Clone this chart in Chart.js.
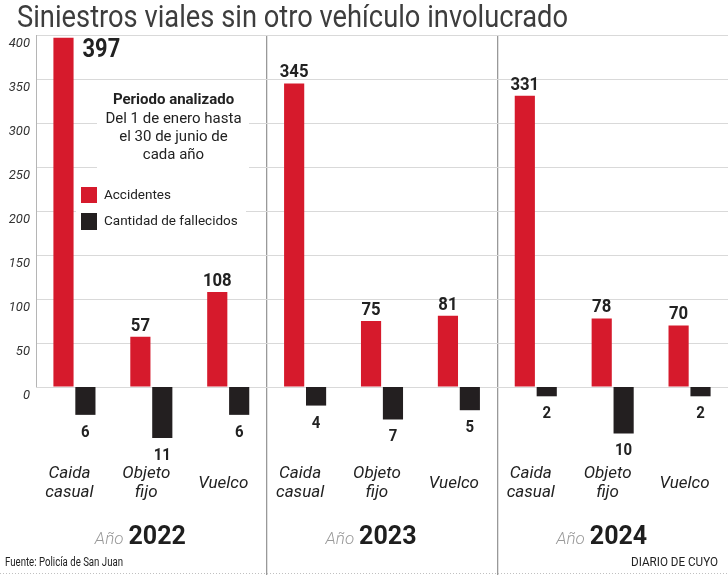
<!DOCTYPE html>
<html>
<head>
<meta charset="utf-8">
<script src="https://cdn.jsdelivr.net/npm/chart.js@4.4.1/dist/chart.umd.min.js"></script>
<style>
  html, body { margin: 0; padding: 0; background: #fff; }
</style>
</head>
<body>
<canvas id="siniestros" width="728" height="575"></canvas>
<script>
// datos
const years = ['2022', '2023', '2024'];
const tipos = [['Caida', 'casual'], ['Objeto', 'fijo'], ['Vuelco']];
const accidentes = [397, 57, 108, 345, 75, 81, 331, 78, 70];
const fallecidos = [6, 11, 6, 4, 7, 5, 2, 10, 2];
const yTicks = [0, 50, 100, 150, 200, 250, 300, 350, 400];

const RED = '#d61a2c';
const BLACK = '#231f20';
const FONT = 'Roboto, "Liberation Sans", Arial, sans-serif';
// la escala de fallecidos es distinta (barras hacia abajo)
const Y_MIN = -213.6, Y_MAX = 400;
const K = 0.1897;

const labels = years.flatMap(y => tipos.map(t => t.join(' ') + ' ' + y));

function txt(ctx, s, x, y, font, color, align, sx) {
  ctx.save();
  ctx.font = font;
  ctx.fillStyle = color;
  ctx.textAlign = align || 'left';
  ctx.textBaseline = 'alphabetic';
  ctx.translate(x, y);
  ctx.scale(sx || 1, 1);
  ctx.fillText(s, 0, 0);
  ctx.restore();
}
function fitTo(ctx, s, font, w) {
  ctx.save();
  ctx.font = font;
  const m = ctx.measureText(s).width;
  ctx.restore();
  return Math.min(1, w / m);
}
function noPad(axis) {
  axis.paddingTop = 0;
  axis.paddingBottom = 0;
  axis.paddingLeft = 0;
  axis.paddingRight = 0;
}

const deco = {
  id: 'deco',
  beforeDatasetsDraw(chart) {
    const ctx = chart.ctx;
    const xs = chart.scales.x, ys = chart.scales.y;
    // eje izquierdo
    ctx.save();
    ctx.strokeStyle = '#b5b5b5';
    ctx.lineWidth = 1;
    ctx.beginPath();
    ctx.moveTo(xs.left + 0.5, ys.getPixelForValue(400));
    ctx.lineTo(xs.left + 0.5, ys.getPixelForValue(0));
    ctx.stroke();
    // fondos blancos del recuadro
    ctx.fillStyle = '#fff';
    ctx.fillRect(97, 84, 152, 88);
    ctx.fillRect(76, 180, 170, 56);
    ctx.restore();

    const cx = 173.5;
    txt(ctx, 'Periodo analizado', cx, 104, 'bold 15px ' + FONT, '#222', 'center');
    txt(ctx, 'Del 1 de enero hasta', cx, 123, '15px ' + FONT, '#222', 'center');
    txt(ctx, 'el 30 de junio de', cx, 141, '15px ' + FONT, '#222', 'center');
    txt(ctx, 'cada año', cx, 159, '15px ' + FONT, '#222', 'center');

    // leyenda
    ctx.fillStyle = RED;
    ctx.fillRect(81, 187, 16, 16);
    ctx.fillStyle = BLACK;
    ctx.fillRect(81, 213, 16, 17);
    txt(ctx, 'Accidentes', 104, 199, '13.5px ' + FONT, '#222', 'left');
    txt(ctx, 'Cantidad de fallecidos', 104, 225, '13.5px ' + FONT, '#222', 'left');
  },
  afterDatasetsDraw(chart) {
    const ctx = chart.ctx;
    const xs = chart.scales.x;
    const area = chart.chartArea;
    const red = chart.getDatasetMeta(0).data;
    const blk = chart.getDatasetMeta(1).data;

    red.forEach((el, i) => {
      const s = String(accidentes[i]);
      if (el.y - 24 < area.top) {
        txt(ctx, s, el.x + el.width / 2 + 9, el.y + 19, 'bold 26px ' + FONT, '#222', 'left', 0.84);
      } else {
        txt(ctx, s, el.x, el.y - 6, 'bold 19px ' + FONT, '#222', 'center', 0.88);
      }
    });
    blk.forEach((el, i) => {
      txt(ctx, String(fallecidos[i]), el.x, el.y + 22, 'bold 17px ' + FONT, '#222', 'center', 0.88);
    });

    // categorias
    labels.forEach((l, i) => {
      const t = tipos[i % tipos.length];
      const x = xs.getPixelForValue(i) - 5;
      if (t.length === 2) {
        txt(ctx, t[0], x, 478, 'italic 17px ' + FONT, '#222', 'center');
        txt(ctx, t[1], x, 497, 'italic 17px ' + FONT, '#222', 'center');
      } else {
        txt(ctx, t[0], x, 488, 'italic 17px ' + FONT, '#222', 'center');
      }
    });

    // años
    years.forEach((y, g) => {
      const c = xs.getPixelForValue(g * 3 + 1) - 11;
      const f1 = 'italic 300 17px ' + FONT;
      const f2 = 'bold 25px ' + FONT;
      ctx.save();
      ctx.font = f1;
      const w1 = ctx.measureText('Año').width;
      ctx.font = f2;
      const w2 = ctx.measureText(y).width;
      ctx.restore();
      const x0 = c - (w1 + 5 + w2) / 2;
      txt(ctx, 'Año', x0, 544, f1, '#9a9a9a', 'left');
      txt(ctx, y, x0 + w1 + 5, 544, f2, '#1e1e1e', 'left');
    });
  },
  afterDraw(chart) {
    const ctx = chart.ctx;
    const title = 'Siniestros viales sin otro vehículo involucrado';
    const tf = '31px ' + FONT;
    txt(ctx, title, 17, 27, tf, '#3d3d3d', 'left', fitTo(ctx, title, tf, 551));

    const f1 = '12px ' + FONT;
    const s1 = 'Fuente: Policía de San Juan';
    txt(ctx, s1, 5, 566, f1, '#222', 'left', fitTo(ctx, s1, f1, 118));
    const s2 = 'DIARIO DE CUYO';
    txt(ctx, s2, 718, 566, f1, '#222', 'right', fitTo(ctx, s2, f1, 87));

    ctx.save();
    ctx.strokeStyle = '#c0c0c0';
    ctx.setLineDash([1, 2]);
    ctx.beginPath();
    ctx.moveTo(0, 573.5);
    ctx.lineTo(728, 573.5);
    ctx.stroke();
    ctx.restore();
  }
};

const ctx = document.getElementById('siniestros').getContext('2d');
new Chart(ctx, {
  type: 'bar',
  data: {
    labels: labels,
    datasets: [
      {
        label: 'Accidentes',
        data: accidentes,
        backgroundColor: RED,
        yAxisID: 'y'
      },
      {
        label: 'Cantidad de fallecidos',
        data: fallecidos.map(v => -v),
        backgroundColor: BLACK,
        yAxisID: 'y2'
      }
    ]
  },
  options: {
    responsive: false,
    animation: false,
    layout: { padding: { top: 35, right: -11, left: 0, bottom: 0 } },
    datasets: { bar: { categoryPercentage: 0.57, barPercentage: 0.92 } },
    plugins: {
      legend: { display: false },
      tooltip: { enabled: false }
    },
    scales: {
      x: {
        afterFit: axis => { axis.height = 0; noPad(axis); },
        ticks: { display: false },
        border: { display: false },
        grid: {
          drawTicks: false,
          lineWidth: 1.3,
          color: c => (c.index === 3 || c.index === 6) ? '#999999' : 'rgba(0,0,0,0)'
        }
      },
      y: {
        min: Y_MIN,
        max: Y_MAX,
        afterBuildTicks: axis => { axis.ticks = yTicks.map(v => ({ value: v })); },
        afterFit: axis => { axis.width = 36; noPad(axis); },
        border: { display: false },
        grid: { drawTicks: false, color: '#d9d9d9' },
        ticks: {
          padding: 6,
          labelOffset: 9,
          color: '#333',
          font: { family: FONT, size: 13, style: 'italic' }
        }
      },
      y2: {
        display: false,
        min: Y_MIN * K,
        max: Y_MAX * K
      }
    }
  },
  plugins: [deco]
});
</script>
</body>
</html>
